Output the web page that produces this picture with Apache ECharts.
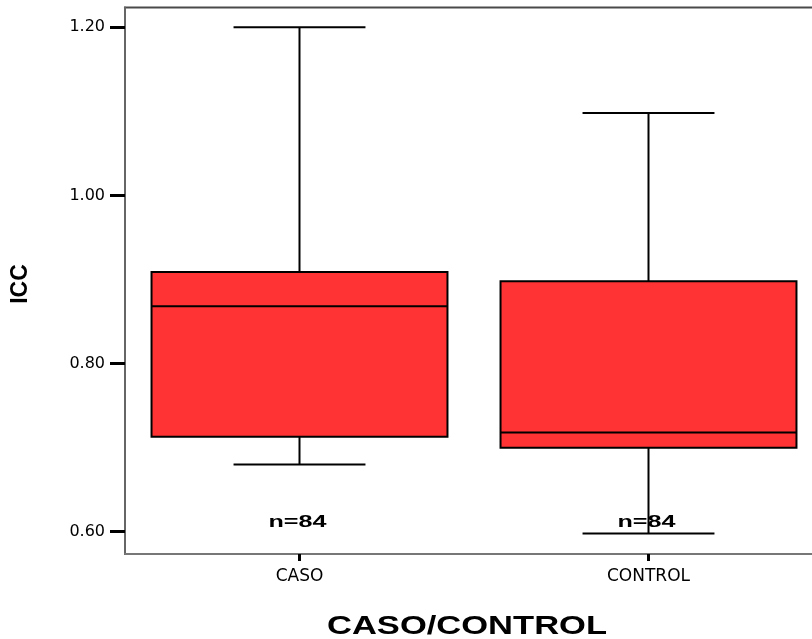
<!DOCTYPE html>
<html><head><meta charset="utf-8">
<script src="https://cdn.jsdelivr.net/npm/echarts@6/dist/echarts.min.js"></script>
<style>html,body{margin:0;padding:0;background:#fff;overflow:hidden;width:812px;height:639px}#c{width:823px;height:639px}</style>
</head><body><div id="c"></div>
<script>
const categories = ['CASO', 'CONTROL'];
const lowerWhisker = [0.680, 0.598];
const q1 = [0.713, 0.700];
const median = [0.868, 0.718];
const q3 = [0.909, 0.898];
const upperWhisker = [1.200, 1.098];
const counts = [84, 84];
const yTicks = [0.60, 0.80, 1.00, 1.20];
const yMin = 0.5735, yMax = 1.2234;
const xTitle = 'CASO/CONTROL';
const yTitle = 'ICC';

const FONT = '"Liberation Sans", Arial, sans-serif';
const ctx2d = document.createElement('canvas').getContext('2d');
function textWidth(str, font) { ctx2d.font = font; return ctx2d.measureText(str).width; }

const chart = echarts.init(document.getElementById('c'), null, { renderer: 'canvas' });
const data = categories.map((c, i) => [i, lowerWhisker[i], q1[i], median[i], q3[i], upperWhisker[i], counts[i]]);

function renderBox(params, api) {
  const i = api.value(0);
  const band = api.size([1, 0])[0];
  const xc = api.coord([i, api.value(3)])[0];
  const yLo = api.coord([i, api.value(1)])[1];
  const yQ1 = api.coord([i, api.value(2)])[1];
  const yMed = api.coord([i, api.value(3)])[1];
  const yQ3 = api.coord([i, api.value(4)])[1];
  const yHi = api.coord([i, api.value(5)])[1];
  const bw = band * 0.848, cw = band * 0.378;
  const cs = params.coordSys;
  const line = { stroke: '#000', lineWidth: 2 };
  const nFont = 'bold 16px ' + FONT;
  const nText = 'n=' + api.value(6);
  const nW = textWidth(nText, nFont);
  return {
    type: 'group', children: [
      { type: 'line', shape: { x1: xc, y1: yHi, x2: xc, y2: yQ3 }, style: line },
      { type: 'line', shape: { x1: xc, y1: yQ1, x2: xc, y2: yLo }, style: line },
      { type: 'line', shape: { x1: xc - cw / 2, y1: yHi, x2: xc + cw / 2, y2: yHi }, style: line },
      { type: 'line', shape: { x1: xc - cw / 2, y1: yLo, x2: xc + cw / 2, y2: yLo }, style: line },
      { type: 'rect', shape: { x: xc - bw / 2, y: yQ3, width: bw, height: yQ1 - yQ3 }, style: { fill: '#ff3333', stroke: '#000', lineWidth: 2 } },
      { type: 'line', shape: { x1: xc - bw / 2, y1: yMed, x2: xc + bw / 2, y2: yMed }, style: line },
      { type: 'text', x: xc - 2, y: cs.y + cs.height - 31, scaleX: 58 / nW,
        style: { text: nText, font: nFont, fill: '#000', align: 'center', verticalAlign: 'middle' } }
    ]
  };
}

const tFont = 'bold 25px ' + FONT;
const tScale = 280 / textWidth(xTitle, tFont);
const yFont = 'bold 23px ' + FONT;

const option = {
  animation: false,
  backgroundColor: '#fff',
  grid: { left: 125, top: 7.5, right: 0, bottom: 85, show: true, borderColor: '#4a4a4a', borderWidth: 2, containLabel: false },
  xAxis: {
    type: 'category', data: categories,
    axisLine: { show: true, lineStyle: { color: '#777', width: 2 } },
    axisTick: { show: true, alignWithLabel: true, length: 7, lineStyle: { color: '#000', width: 3 } },
    axisLabel: { margin: 14, fontSize: 17, fontFamily: 'DejaVu Sans', color: '#000' },
    splitLine: { show: false }
  },
  yAxis: {
    type: 'value', min: yMin, max: yMax,
    axisLine: { show: true, lineStyle: { color: '#666', width: 2 } },
    axisTick: { show: true, customValues: yTicks, length: 15, lineStyle: { color: '#000', width: 3 } },
    axisLabel: { customValues: yTicks, formatter: v => v.toFixed(2), margin: 20, fontSize: 16, fontFamily: 'DejaVu Sans', color: '#000' },
    splitLine: { show: false }
  },
  series: [{ type: 'custom', renderItem: renderBox, data: data, encode: { x: 0, y: [1, 5] }, clip: false }],
  graphic: [
    { type: 'text', x: 467, y: 627, scaleX: tScale,
      style: { text: xTitle, font: tFont, fill: '#000', align: 'center', verticalAlign: 'middle' } },
    { type: 'text', x: 21, y: 284, rotation: Math.PI / 2,
      style: { text: yTitle, font: yFont, fill: '#000', align: 'center', verticalAlign: 'middle' } }
  ]
};
chart.setOption(option);
</script>
</body></html>
